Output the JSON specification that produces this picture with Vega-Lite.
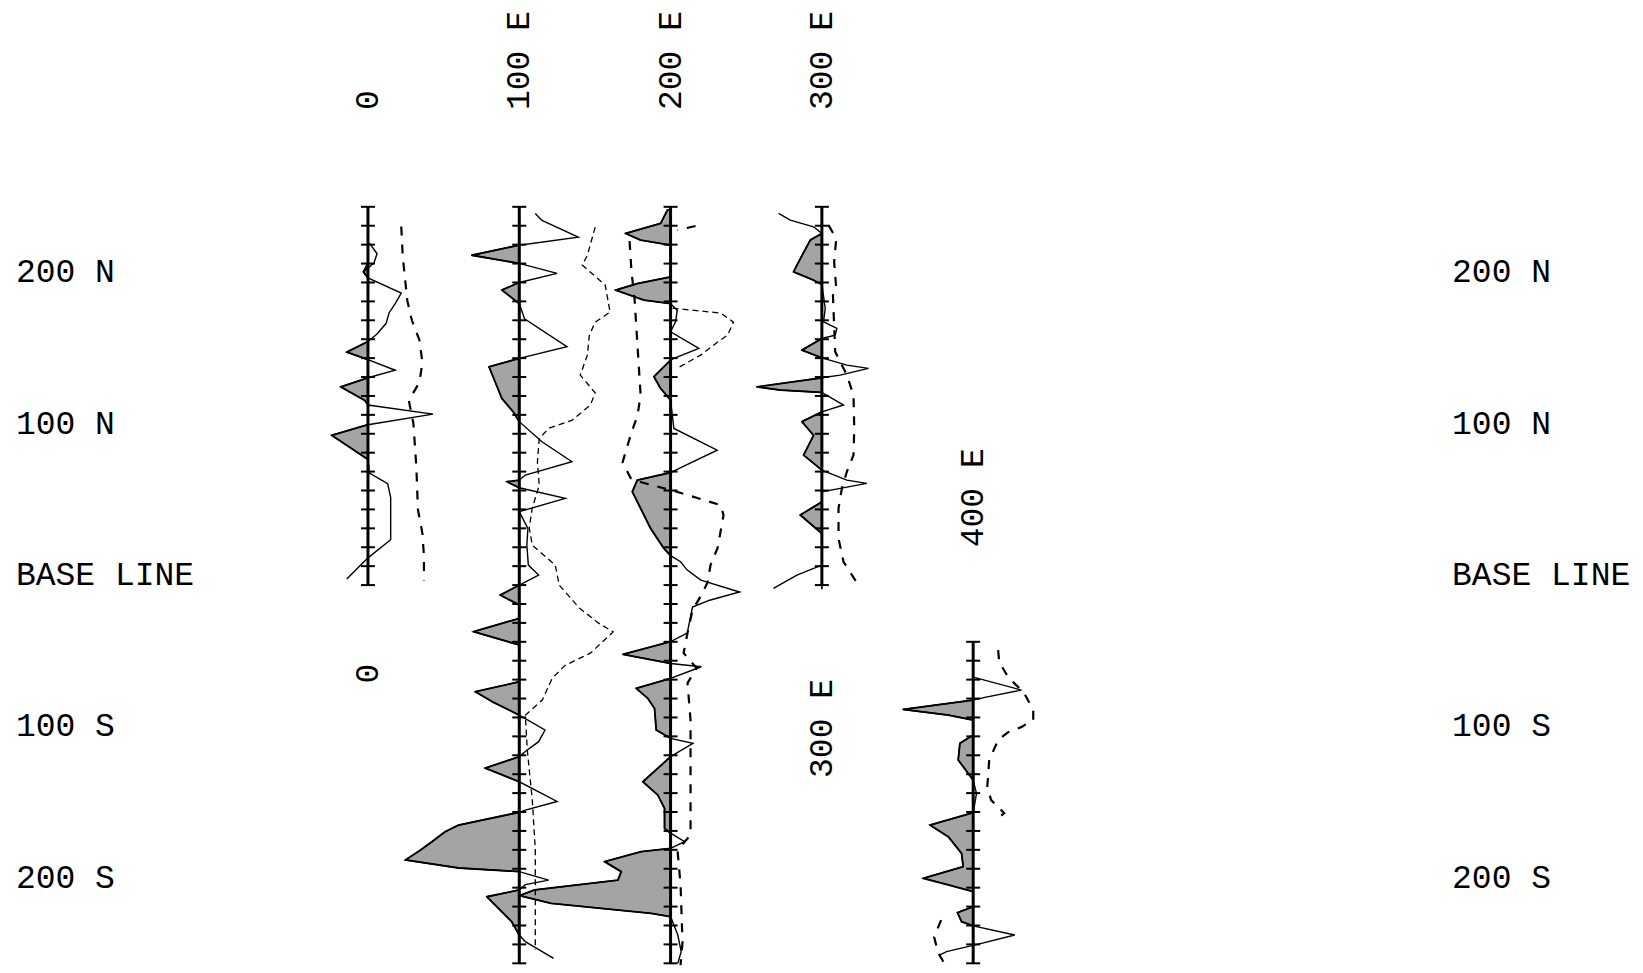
{
"$schema":"https://vega.github.io/schema/vega-lite/v6.json",
"width":1643,"height":973,"autosize":{"type":"none"},"padding":0,"background":"white",
"config":{"view":{"stroke":null}},
"datasets":{
"axes":[{"l":0,"a":0,"b":250},{"l":100,"a":-250,"b":250},{"l":200,"a":-250,"b":250},{"l":300,"a":0,"b":250},{"l":400,"a":-250,"b":-37.5}],
"ticks":[
{"l":0,"n":0},{"l":0,"n":12.5},{"l":0,"n":25},{"l":0,"n":37.5},{"l":0,"n":50},{"l":0,"n":62.5},{"l":0,"n":75},{"l":0,"n":87.5},{"l":0,"n":100},{"l":0,"n":112.5},{"l":0,"n":125},{"l":0,"n":137.5},{"l":0,"n":150},{"l":0,"n":162.5},{"l":0,"n":175},{"l":0,"n":187.5},{"l":0,"n":200},{"l":0,"n":212.5},{"l":0,"n":225},{"l":0,"n":237.5},{"l":0,"n":250},
{"l":100,"n":-250},{"l":100,"n":-237.5},{"l":100,"n":-225},{"l":100,"n":-212.5},{"l":100,"n":-200},{"l":100,"n":-187.5},{"l":100,"n":-175},{"l":100,"n":-162.5},{"l":100,"n":-150},{"l":100,"n":-137.5},{"l":100,"n":-125},{"l":100,"n":-112.5},{"l":100,"n":-100},{"l":100,"n":-87.5},{"l":100,"n":-75},{"l":100,"n":-62.5},{"l":100,"n":-50},{"l":100,"n":-37.5},{"l":100,"n":-25},{"l":100,"n":-12.5},{"l":100,"n":0},{"l":100,"n":12.5},{"l":100,"n":25},{"l":100,"n":37.5},{"l":100,"n":50},{"l":100,"n":62.5},{"l":100,"n":75},{"l":100,"n":87.5},{"l":100,"n":100},{"l":100,"n":112.5},{"l":100,"n":125},{"l":100,"n":137.5},{"l":100,"n":150},{"l":100,"n":162.5},{"l":100,"n":175},{"l":100,"n":187.5},{"l":100,"n":200},{"l":100,"n":212.5},{"l":100,"n":225},{"l":100,"n":237.5},{"l":100,"n":250},
{"l":200,"n":-250},{"l":200,"n":-237.5},{"l":200,"n":-225},{"l":200,"n":-212.5},{"l":200,"n":-200},{"l":200,"n":-187.5},{"l":200,"n":-175},{"l":200,"n":-162.5},{"l":200,"n":-150},{"l":200,"n":-137.5},{"l":200,"n":-125},{"l":200,"n":-112.5},{"l":200,"n":-100},{"l":200,"n":-87.5},{"l":200,"n":-75},{"l":200,"n":-62.5},{"l":200,"n":-50},{"l":200,"n":-37.5},{"l":200,"n":-25},{"l":200,"n":-12.5},{"l":200,"n":0},{"l":200,"n":12.5},{"l":200,"n":25},{"l":200,"n":37.5},{"l":200,"n":50},{"l":200,"n":62.5},{"l":200,"n":75},{"l":200,"n":87.5},{"l":200,"n":100},{"l":200,"n":112.5},{"l":200,"n":125},{"l":200,"n":137.5},{"l":200,"n":150},{"l":200,"n":162.5},{"l":200,"n":175},{"l":200,"n":187.5},{"l":200,"n":200},{"l":200,"n":212.5},{"l":200,"n":225},{"l":200,"n":237.5},{"l":200,"n":250},
{"l":300,"n":0},{"l":300,"n":12.5},{"l":300,"n":25},{"l":300,"n":37.5},{"l":300,"n":50},{"l":300,"n":62.5},{"l":300,"n":75},{"l":300,"n":87.5},{"l":300,"n":100},{"l":300,"n":112.5},{"l":300,"n":125},{"l":300,"n":137.5},{"l":300,"n":150},{"l":300,"n":162.5},{"l":300,"n":175},{"l":300,"n":187.5},{"l":300,"n":200},{"l":300,"n":212.5},{"l":300,"n":225},{"l":300,"n":237.5},{"l":300,"n":250},
{"l":400,"n":-250},{"l":400,"n":-237.5},{"l":400,"n":-225},{"l":400,"n":-212.5},{"l":400,"n":-200},{"l":400,"n":-187.5},{"l":400,"n":-175},{"l":400,"n":-162.5},{"l":400,"n":-150},{"l":400,"n":-137.5},{"l":400,"n":-125},{"l":400,"n":-112.5},{"l":400,"n":-100},{"l":400,"n":-87.5},{"l":400,"n":-75},{"l":400,"n":-62.5},{"l":400,"n":-50},{"l":400,"n":-37.5}
],
"solid":[
{"id":"0","l":0,"n":226,"e":1,"s":0},{"id":"0","l":0,"n":219,"e":6,"s":0},{"id":"0","l":0,"n":213,"e":4,"s":0},{"id":"0","l":0,"n":207,"e":-3,"s":-3},{"id":"0","l":0,"n":203,"e":0,"s":0},{"id":"0","l":0,"n":193,"e":22,"s":0},{"id":"0","l":0,"n":186,"e":18,"s":0},{"id":"0","l":0,"n":180,"e":14,"s":0},{"id":"0","l":0,"n":173,"e":12,"s":0},{"id":"0","l":0,"n":166,"e":6,"s":0},{"id":"0","l":0,"n":161,"e":0,"s":0},{"id":"0","l":0,"n":154,"e":-14,"s":-14},{"id":"0","l":0,"n":149,"e":0,"s":0},{"id":"0","l":0,"n":142,"e":18,"s":0},{"id":"0","l":0,"n":137,"e":0,"s":0},{"id":"0","l":0,"n":131,"e":-18,"s":-18},{"id":"0","l":0,"n":122,"e":-2,"s":-2},{"id":"0","l":0,"n":119,"e":0,"s":0},{"id":"0","l":0,"n":113,"e":43,"s":0},{"id":"0","l":0,"n":106,"e":0,"s":0},{"id":"0","l":0,"n":99,"e":-24,"s":-24},{"id":"0","l":0,"n":83,"e":0,"s":0},{"id":"0","l":0,"n":74,"e":1,"s":0},{"id":"0","l":0,"n":67,"e":13,"s":0},{"id":"0","l":0,"n":58,"e":15,"s":0},{"id":"0","l":0,"n":30,"e":15,"s":0},{"id":"0","l":0,"n":18,"e":0,"s":0},{"id":"0","l":0,"n":4,"e":-14,"s":0},
{"id":"100","l":100,"n":245.6,"e":110.6,"s":100},{"id":"100","l":100,"n":241,"e":115,"s":100},{"id":"100","l":100,"n":230,"e":139,"s":100},{"id":"100","l":100,"n":225.8,"e":108.4,"s":100},{"id":"100","l":100,"n":224.7,"e":100,"s":100},{"id":"100","l":100,"n":218,"e":68.7,"s":68.7},{"id":"100","l":100,"n":212.6,"e":100,"s":100},{"id":"100","l":100,"n":206,"e":125,"s":100},{"id":"100","l":100,"n":200,"e":100,"s":100},{"id":"100","l":100,"n":195,"e":88.5,"s":88.5},{"id":"100","l":100,"n":186,"e":100,"s":100},{"id":"100","l":100,"n":176,"e":103.5,"s":100},{"id":"100","l":100,"n":157.5,"e":131.5,"s":100},{"id":"100","l":100,"n":149.8,"e":100,"s":100},{"id":"100","l":100,"n":144.3,"e":80,"s":80},{"id":"100","l":100,"n":134.4,"e":84,"s":84},{"id":"100","l":100,"n":123.3,"e":88.5,"s":88.5},{"id":"100","l":100,"n":114.5,"e":96,"s":96},{"id":"100","l":100,"n":108,"e":100,"s":100},{"id":"100","l":100,"n":94.7,"e":115,"s":100},{"id":"100","l":100,"n":81.5,"e":134.8,"s":100},{"id":"100","l":100,"n":72.7,"e":104,"s":100},{"id":"100","l":100,"n":69.4,"e":100,"s":100},{"id":"100","l":100,"n":68.3,"e":91.9,"s":91.9},{"id":"100","l":100,"n":64.3,"e":100,"s":100},{"id":"100","l":100,"n":57.3,"e":130.4,"s":100},{"id":"100","l":100,"n":48.5,"e":100,"s":100},{"id":"100","l":100,"n":37.4,"e":105.7,"s":100},{"id":"100","l":100,"n":26.4,"e":105,"s":100},{"id":"100","l":100,"n":13.2,"e":106,"s":100},{"id":"100","l":100,"n":6.6,"e":112.8,"s":100},{"id":"100","l":100,"n":0,"e":100,"s":100},{"id":"100","l":100,"n":-6.6,"e":87.4,"s":87.4},{"id":"100","l":100,"n":-13.2,"e":100,"s":100},{"id":"100","l":100,"n":-22,"e":100,"s":100},{"id":"100","l":100,"n":-30.8,"e":69.8,"s":69.8},{"id":"100","l":100,"n":-39.6,"e":100,"s":100},{"id":"100","l":100,"n":-63.9,"e":100,"s":100},{"id":"100","l":100,"n":-70.5,"e":71,"s":71},{"id":"100","l":100,"n":-77,"e":82,"s":82},{"id":"100","l":100,"n":-86,"e":100,"s":100},{"id":"100","l":100,"n":-95.8,"e":117,"s":100},{"id":"100","l":100,"n":-103.5,"e":112.8,"s":100},{"id":"100","l":100,"n":-110,"e":104,"s":100},{"id":"100","l":100,"n":-113.4,"e":100,"s":100},{"id":"100","l":100,"n":-121,"e":77.5,"s":77.5},{"id":"100","l":100,"n":-130,"e":100,"s":100},{"id":"100","l":100,"n":-143,"e":125,"s":100},{"id":"100","l":100,"n":-148.7,"e":104,"s":100},{"id":"100","l":100,"n":-150.2,"e":100,"s":100},{"id":"100","l":100,"n":-158.6,"e":60,"s":60},{"id":"100","l":100,"n":-163,"e":51,"s":51},{"id":"100","l":100,"n":-169.6,"e":42.3,"s":42.3},{"id":"100","l":100,"n":-176,"e":33.5,"s":33.5},{"id":"100","l":100,"n":-181.7,"e":24.7,"s":24.7},{"id":"100","l":100,"n":-187,"e":60,"s":60},{"id":"100","l":100,"n":-189.4,"e":100,"s":100},{"id":"100","l":100,"n":-195,"e":119.4,"s":100},{"id":"100","l":100,"n":-198,"e":104,"s":100},{"id":"100","l":100,"n":-201.5,"e":100,"s":100},{"id":"100","l":100,"n":-206,"e":78.6,"s":78.6},{"id":"100","l":100,"n":-213.7,"e":86.3,"s":86.3},{"id":"100","l":100,"n":-222.5,"e":95,"s":95},{"id":"100","l":100,"n":-231.3,"e":100,"s":100},{"id":"100","l":100,"n":-235.7,"e":104,"s":100},{"id":"100","l":100,"n":-246.7,"e":122.7,"s":100},
{"id":"200","l":200,"n":248,"e":198,"s":198},{"id":"200","l":200,"n":239,"e":193.4,"s":193.4},{"id":"200","l":200,"n":232.4,"e":170.3,"s":170.3},{"id":"200","l":200,"n":228,"e":180.2,"s":180.2},{"id":"200","l":200,"n":224.7,"e":200,"s":200},{"id":"200","l":200,"n":203.7,"e":200,"s":200},{"id":"200","l":200,"n":199.3,"e":178,"s":178},{"id":"200","l":200,"n":195,"e":163.7,"s":163.7},{"id":"200","l":200,"n":188.3,"e":182.4,"s":182.4},{"id":"200","l":200,"n":186,"e":200,"s":200},{"id":"200","l":200,"n":181.7,"e":204.4,"s":200},{"id":"200","l":200,"n":174,"e":203.3,"s":200},{"id":"200","l":200,"n":167.4,"e":200,"s":200},{"id":"200","l":200,"n":156.4,"e":218.7,"s":200},{"id":"200","l":200,"n":149.8,"e":202.2,"s":200},{"id":"200","l":200,"n":148.7,"e":200,"s":200},{"id":"200","l":200,"n":137.7,"e":189,"s":189},{"id":"200","l":200,"n":130,"e":193.4,"s":193.4},{"id":"200","l":200,"n":122.2,"e":200,"s":200},{"id":"200","l":200,"n":103.5,"e":202.2,"s":200},{"id":"200","l":200,"n":89.2,"e":230.8,"s":200},{"id":"200","l":200,"n":76,"e":203.3,"s":200},{"id":"200","l":200,"n":74.4,"e":200,"s":200},{"id":"200","l":200,"n":69.4,"e":178,"s":178},{"id":"200","l":200,"n":61.7,"e":174.7,"s":174.7},{"id":"200","l":200,"n":50.7,"e":180.2,"s":180.2},{"id":"200","l":200,"n":37.4,"e":186.8,"s":186.8},{"id":"200","l":200,"n":24.2,"e":195.6,"s":195.6},{"id":"200","l":200,"n":19.4,"e":200,"s":200},{"id":"200","l":200,"n":15.4,"e":206.6,"s":200},{"id":"200","l":200,"n":9.9,"e":211,"s":200},{"id":"200","l":200,"n":3.3,"e":220,"s":200},{"id":"200","l":200,"n":-4.6,"e":245.6,"s":200},{"id":"200","l":200,"n":-10,"e":225.8,"s":200},{"id":"200","l":200,"n":-14.5,"e":214.5,"s":200},{"id":"200","l":200,"n":-31.7,"e":211,"s":200},{"id":"200","l":200,"n":-37.4,"e":200,"s":200},{"id":"200","l":200,"n":-45.8,"e":168.5,"s":168.5},{"id":"200","l":200,"n":-51.8,"e":200,"s":200},{"id":"200","l":200,"n":-54,"e":220.3,"s":200},{"id":"200","l":200,"n":-61.7,"e":200,"s":200},{"id":"200","l":200,"n":-68.3,"e":177.3,"s":177.3},{"id":"200","l":200,"n":-74.9,"e":185,"s":185},{"id":"200","l":200,"n":-81.5,"e":189.4,"s":189.4},{"id":"200","l":200,"n":-95.8,"e":190.5,"s":190.5},{"id":"200","l":200,"n":-101.3,"e":200,"s":200},{"id":"200","l":200,"n":-104.6,"e":214.8,"s":200},{"id":"200","l":200,"n":-113.4,"e":200,"s":200},{"id":"200","l":200,"n":-130,"e":181.7,"s":181.7},{"id":"200","l":200,"n":-138.8,"e":191.6,"s":191.6},{"id":"200","l":200,"n":-147.6,"e":196,"s":196},{"id":"200","l":200,"n":-160.8,"e":196,"s":196},{"id":"200","l":200,"n":-164,"e":200,"s":200},{"id":"200","l":200,"n":-169.6,"e":209.3,"s":200},{"id":"200","l":200,"n":-174,"e":200,"s":200},{"id":"200","l":200,"n":-176.2,"e":180.6,"s":180.6},{"id":"200","l":200,"n":-182.8,"e":156.4,"s":156.4},{"id":"200","l":200,"n":-189.4,"e":167.4,"s":167.4},{"id":"200","l":200,"n":-195,"e":165.2,"s":165.2},{"id":"200","l":200,"n":-201.5,"e":110.1,"s":110.1},{"id":"200","l":200,"n":-205.3,"e":100.2,"s":100.2},{"id":"200","l":200,"n":-210.4,"e":121.1,"s":121.1},{"id":"200","l":200,"n":-213.7,"e":154.2,"s":154.2},{"id":"200","l":200,"n":-217,"e":187.2,"s":187.2},{"id":"200","l":200,"n":-219.2,"e":200,"s":200},{"id":"200","l":200,"n":-231.3,"e":204.8,"s":200},{"id":"200","l":200,"n":-242.3,"e":207,"s":200},{"id":"200","l":200,"n":-250,"e":204.8,"s":200},
{"id":"300","l":300,"n":245.6,"e":271.4,"s":300},{"id":"300","l":300,"n":241.2,"e":279.1,"s":300},{"id":"300","l":300,"n":236.8,"e":294.5,"s":300},{"id":"300","l":300,"n":232.4,"e":300,"s":300},{"id":"300","l":300,"n":228,"e":292.3,"s":292.3},{"id":"300","l":300,"n":211.5,"e":283.5,"s":283.5},{"id":"300","l":300,"n":207,"e":281.3,"s":281.3},{"id":"300","l":300,"n":201.5,"e":294.5,"s":294.5},{"id":"300","l":300,"n":198.7,"e":300,"s":300},{"id":"300","l":300,"n":182.8,"e":302.2,"s":300},{"id":"300","l":300,"n":174,"e":301.1,"s":300},{"id":"300","l":300,"n":169.6,"e":309.9,"s":300},{"id":"300","l":300,"n":165.2,"e":308.8,"s":300},{"id":"300","l":300,"n":163,"e":300,"s":300},{"id":"300","l":300,"n":155.3,"e":286.8,"s":286.8},{"id":"300","l":300,"n":150.2,"e":300,"s":300},{"id":"300","l":300,"n":145.4,"e":316.5,"s":300},{"id":"300","l":300,"n":143.2,"e":330.8,"s":300},{"id":"300","l":300,"n":138.8,"e":312.1,"s":300},{"id":"300","l":300,"n":137,"e":300,"s":300},{"id":"300","l":300,"n":131,"e":257,"s":257},{"id":"300","l":300,"n":128.9,"e":272.5,"s":272.5},{"id":"300","l":300,"n":127.3,"e":300,"s":300},{"id":"300","l":300,"n":119,"e":314.3,"s":300},{"id":"300","l":300,"n":114.5,"e":300,"s":300},{"id":"300","l":300,"n":108,"e":286.8,"s":286.8},{"id":"300","l":300,"n":99,"e":294.5,"s":294.5},{"id":"300","l":300,"n":85.9,"e":287.9,"s":287.9},{"id":"300","l":300,"n":76,"e":300,"s":300},{"id":"300","l":300,"n":69.4,"e":316.5,"s":300},{"id":"300","l":300,"n":67.2,"e":329.7,"s":300},{"id":"300","l":300,"n":63.9,"e":312.1,"s":300},{"id":"300","l":300,"n":61.7,"e":300,"s":300},{"id":"300","l":300,"n":55,"e":300,"s":300},{"id":"300","l":300,"n":46.3,"e":285.7,"s":285.7},{"id":"300","l":300,"n":34.1,"e":300,"s":300},{"id":"300","l":300,"n":13.2,"e":300,"s":300},{"id":"300","l":300,"n":6.6,"e":283.5,"s":300},{"id":"300","l":300,"n":-2.2,"e":268,"s":300},
{"id":"400","l":400,"n":-61,"e":400.7,"s":400},{"id":"400","l":400,"n":-69.4,"e":431.9,"s":400},{"id":"400","l":400,"n":-74.2,"e":407.7,"s":400},{"id":"400","l":400,"n":-76,"e":400,"s":400},{"id":"400","l":400,"n":-82.2,"e":353.7,"s":353.7},{"id":"400","l":400,"n":-85.9,"e":383.5,"s":383.5},{"id":"400","l":400,"n":-89.2,"e":400,"s":400},{"id":"400","l":400,"n":-99.1,"e":400,"s":400},{"id":"400","l":400,"n":-104.6,"e":391.2,"s":391.2},{"id":"400","l":400,"n":-115.6,"e":390.1,"s":390.1},{"id":"400","l":400,"n":-128.9,"e":400,"s":400},{"id":"400","l":400,"n":-137.7,"e":402.2,"s":400},{"id":"400","l":400,"n":-150.4,"e":400,"s":400},{"id":"400","l":400,"n":-158.6,"e":371.4,"s":371.4},{"id":"400","l":400,"n":-166.3,"e":383.5,"s":383.5},{"id":"400","l":400,"n":-177.3,"e":392.3,"s":392.3},{"id":"400","l":400,"n":-186.1,"e":393.4,"s":393.4},{"id":"400","l":400,"n":-193.8,"e":367,"s":367},{"id":"400","l":400,"n":-198.2,"e":383.5,"s":383.5},{"id":"400","l":400,"n":-202.6,"e":400,"s":400},{"id":"400","l":400,"n":-212.6,"e":400,"s":400},{"id":"400","l":400,"n":-216.5,"e":389.6,"s":389.6},{"id":"400","l":400,"n":-222.5,"e":392.3,"s":392.3},{"id":"400","l":400,"n":-225.3,"e":400,"s":400},{"id":"400","l":400,"n":-231.3,"e":427.5,"s":400},{"id":"400","l":400,"n":-236.8,"e":405.5,"s":400},{"id":"400","l":400,"n":-242.3,"e":382.4,"s":400},{"id":"400","l":400,"n":-244.5,"e":378,"s":400}
],
"dash":[
{"id":"0d","n":237,"e":22},{"id":"0d","n":217,"e":23},{"id":"0d","n":188,"e":26},{"id":"0d","n":175,"e":29},{"id":"0d","n":162,"e":34},{"id":"0d","n":147,"e":36},{"id":"0d","n":134,"e":34},{"id":"0d","n":122,"e":27},{"id":"0d","n":107,"e":30},{"id":"0d","n":78,"e":32},{"id":"0d","n":50,"e":33},{"id":"0d","n":34,"e":36},{"id":"0d","n":19,"e":37},{"id":"0d","n":3,"e":37},
{"id":"200x","n":237.3,"e":216.5},{"id":"200x","n":234.6,"e":204.6},
{"id":"200d","n":227.4,"e":172.9},{"id":"200d","n":206.9,"e":174.2},{"id":"200d","n":189,"e":176.2},{"id":"200d","n":125.6,"e":180.2},{"id":"200d","n":112.4,"e":178.2},{"id":"200d","n":99.1,"e":173.6},{"id":"200d","n":81.3,"e":168.3},{"id":"200d","n":70.7,"e":173.6},{"id":"200d","n":68.1,"e":180.2},{"id":"200d","n":61.5,"e":204.6},{"id":"200d","n":52.9,"e":233},{"id":"200d","n":46.3,"e":235},{"id":"200d","n":24.5,"e":231.1},{"id":"200d","n":13.2,"e":226.4},{"id":"200d","n":2,"e":224.5},{"id":"200d","n":-5.3,"e":221.1},{"id":"200d","n":-16.5,"e":214.5},{"id":"200d","n":-31.7,"e":211.2},{"id":"200d","n":-44.9,"e":208.6},{"id":"200d","n":-54.9,"e":217.2},{"id":"200d","n":-64.8,"e":211.2},{"id":"200d","n":-89.2,"e":213.2},{"id":"200d","n":-115.7,"e":213.2},{"id":"200d","n":-165.2,"e":213.2},{"id":"200d","n":-175.2,"e":204.6},{"id":"200d","n":-198.3,"e":206.6},{"id":"200d","n":-236,"e":207.9},{"id":"200d","n":-251.2,"e":206.6},
{"id":"300d","n":237.9,"e":304.4},{"id":"300d","n":229,"e":309.5},{"id":"300d","n":213.7,"e":308.1},{"id":"300d","n":196,"e":309.5},{"id":"300d","n":191.6,"e":307.3},{"id":"300d","n":154.2,"e":308.8},{"id":"300d","n":138.8,"e":316.5},{"id":"300d","n":125.6,"e":320.9},{"id":"300d","n":103.5,"e":321.4},{"id":"300d","n":85.9,"e":320.9},{"id":"300d","n":74.9,"e":316.5},{"id":"300d","n":63.9,"e":313.2},{"id":"300d","n":50.7,"e":311},{"id":"300d","n":30.8,"e":311},{"id":"300d","n":15.4,"e":314.3},{"id":"300d","n":2.2,"e":322.7},
{"id":"400d","n":-43,"e":416.5},{"id":"400d","n":-50.9,"e":417.2},{"id":"400d","n":-60.8,"e":423.1},{"id":"400d","n":-71.4,"e":433.7},{"id":"400d","n":-82.6,"e":439.7},{"id":"400d","n":-89.2,"e":439.7},{"id":"400d","n":-93.9,"e":431.7},{"id":"400d","n":-97.2,"e":423.1},{"id":"400d","n":-102.4,"e":416.5},{"id":"400d","n":-115.7,"e":410.6},{"id":"400d","n":-133.5,"e":409.3},{"id":"400d","n":-142.1,"e":411.9},{"id":"400d","n":-150.7,"e":420.5},{"id":"400d","n":-155.3,"e":415.2},
{"id":"400e","n":-221.4,"e":378.8},{"id":"400e","n":-232.7,"e":374.2},{"id":"400e","n":-243.2,"e":376.9},{"id":"400e","n":-249.8,"e":380.8}
],
"thin":[
{"id":"100t","n":236.6,"e":150.2},{"id":"100t","n":218,"e":145},{"id":"100t","n":211.5,"e":141.6},{"id":"100t","n":198.3,"e":156.8},{"id":"100t","n":180.4,"e":160},{"id":"100t","n":173.8,"e":150.2},{"id":"100t","n":165,"e":146.3},{"id":"100t","n":152,"e":145},{"id":"100t","n":138.8,"e":140.3},{"id":"100t","n":127,"e":150.2},{"id":"100t","n":119,"e":147},{"id":"100t","n":109,"e":135},{"id":"100t","n":103.8,"e":119.8},{"id":"100t","n":97,"e":113.2},{"id":"100t","n":81.3,"e":112},{"id":"100t","n":66,"e":113.2},{"id":"100t","n":51,"e":108.6},{"id":"100t","n":37.7,"e":106.6},{"id":"100t","n":26.4,"e":108.6},{"id":"100t","n":13.2,"e":123.8},{"id":"100t","n":0,"e":126.4},{"id":"100t","n":-15.2,"e":139.7},{"id":"100t","n":-25,"e":152.2},{"id":"100t","n":-31,"e":162},{"id":"100t","n":-45,"e":147},{"id":"100t","n":-53,"e":130.4},{"id":"100t","n":-61.5,"e":121.8},{"id":"100t","n":-76,"e":115.2},{"id":"100t","n":-86,"e":104},{"id":"100t","n":-109,"e":105.3},{"id":"100t","n":-142,"e":108.6},{"id":"100t","n":-175,"e":110.6},{"id":"100t","n":-208,"e":110.6},{"id":"100t","n":-241,"e":110.6},
{"id":"200t","n":183,"e":201.3},{"id":"200t","n":181.8,"e":213.2},{"id":"200t","n":179.8,"e":233},{"id":"200t","n":173.8,"e":241.6},{"id":"200t","n":165.2,"e":237.7},{"id":"200t","n":160.6,"e":231.1},{"id":"200t","n":152,"e":219.8},{"id":"200t","n":143.4,"e":204.6}
],
"lab":[
{"t":"200 N","e":-232.7,"n":200},{"t":"100 N","e":-232.7,"n":100},{"t":"BASE LINE","e":-232.7,"n":0},{"t":"100 S","e":-232.7,"n":-100},{"t":"200 S","e":-232.7,"n":-200},
{"t":"200 N","e":716.5,"n":200},{"t":"100 N","e":716.5,"n":100},{"t":"BASE LINE","e":716.5,"n":0},{"t":"100 S","e":716.5,"n":-100},{"t":"200 S","e":716.5,"n":-200}
],
"rlab":[
{"t":"0","e":0,"n":314},{"t":"100 E","e":100,"n":314},{"t":"200 E","e":200,"n":314},{"t":"300 E","e":300,"n":314},
{"t":"400 E","e":400,"n":25},{"t":"0","e":0,"n":-65},{"t":"300 E","e":300,"n":-127.5}
]
},
"layer":[
{"data":{"name":"solid"},
 "mark":{"type":"area","orient":"horizontal","fill":"#a4a4a4","stroke":"black","strokeWidth":1.8,"strokeJoin":"round"},
 "encoding":{
  "y":{"field":"n","type":"quantitative","scale":{"domain":[-256.4,386.7],"nice":false,"zero":false},"axis":null},
  "x":{"field":"s","type":"quantitative","scale":{"domain":[-243.2,842.7],"nice":false,"zero":false},"axis":null,"stack":null},
  "x2":{"field":"l"},
  "detail":{"field":"id","type":"nominal"}}},
{"data":{"name":"axes"},
 "mark":{"type":"rule","color":"black","strokeWidth":3},
 "encoding":{
  "x":{"field":"l","type":"quantitative","scale":{"domain":[-243.2,842.7],"nice":false,"zero":false},"axis":null},
  "y":{"field":"a","type":"quantitative","scale":{"domain":[-256.4,386.7],"nice":false,"zero":false},"axis":null},
  "y2":{"field":"b"}}},
{"data":{"name":"ticks"},
 "mark":{"type":"tick","orient":"horizontal","color":"black","size":14,"thickness":2,"opacity":1},
 "encoding":{
  "x":{"field":"l","type":"quantitative","scale":{"domain":[-243.2,842.7],"nice":false,"zero":false},"axis":null},
  "y":{"field":"n","type":"quantitative","scale":{"domain":[-256.4,386.7],"nice":false,"zero":false},"axis":null}}},
{"data":{"name":"solid"},
 "mark":{"type":"line","color":"black","strokeWidth":1.4},
 "encoding":{
  "x":{"field":"e","type":"quantitative","scale":{"domain":[-243.2,842.7],"nice":false,"zero":false},"axis":null},
  "y":{"field":"n","type":"quantitative","scale":{"domain":[-256.4,386.7],"nice":false,"zero":false},"axis":null},
  "detail":{"field":"id","type":"nominal"},
  "order":{"field":"n","type":"quantitative","sort":"descending"}}},
{"data":{"name":"thin"},
 "mark":{"type":"line","color":"black","strokeWidth":1.3,"strokeDash":[6,4]},
 "encoding":{
  "x":{"field":"e","type":"quantitative","scale":{"domain":[-243.2,842.7],"nice":false,"zero":false},"axis":null},
  "y":{"field":"n","type":"quantitative","scale":{"domain":[-256.4,386.7],"nice":false,"zero":false},"axis":null},
  "detail":{"field":"id","type":"nominal"},
  "order":{"field":"n","type":"quantitative","sort":"descending"}}},
{"data":{"name":"dash"},
 "mark":{"type":"line","color":"black","strokeWidth":2.2,"strokeDash":[9,9]},
 "encoding":{
  "x":{"field":"e","type":"quantitative","scale":{"domain":[-243.2,842.7],"nice":false,"zero":false},"axis":null},
  "y":{"field":"n","type":"quantitative","scale":{"domain":[-256.4,386.7],"nice":false,"zero":false},"axis":null},
  "detail":{"field":"id","type":"nominal"},
  "order":{"field":"n","type":"quantitative","sort":"descending"}}},
{"data":{"name":"lab"},
 "mark":{"type":"text","font":"Liberation Mono","fontSize":33,"align":"left","baseline":"alphabetic","color":"black"},
 "encoding":{
  "x":{"field":"e","type":"quantitative","scale":{"domain":[-243.2,842.7],"nice":false,"zero":false},"axis":null},
  "y":{"field":"n","type":"quantitative","scale":{"domain":[-256.4,386.7],"nice":false,"zero":false},"axis":null},
  "text":{"field":"t"}}},
{"data":{"name":"rlab"},
 "mark":{"type":"text","font":"Liberation Mono","fontSize":33,"align":"left","baseline":"middle","angle":270,"color":"black"},
 "encoding":{
  "x":{"field":"e","type":"quantitative","scale":{"domain":[-243.2,842.7],"nice":false,"zero":false},"axis":null},
  "y":{"field":"n","type":"quantitative","scale":{"domain":[-256.4,386.7],"nice":false,"zero":false},"axis":null},
  "text":{"field":"t"}}}
]
}
